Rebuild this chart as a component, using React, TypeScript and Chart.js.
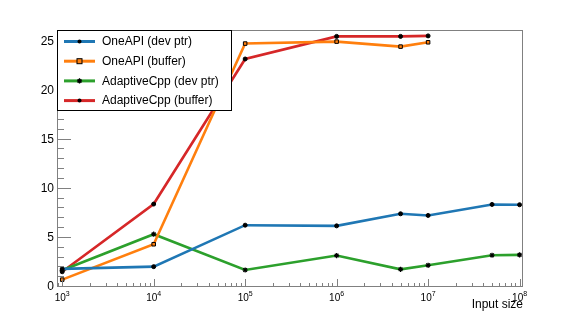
import React, { useEffect, useRef } from "react";
import { Chart, registerables } from "chart.js";

Chart.register(...registerables);

// ---- data ----
const sizesLong = [1e3, 1e4, 1e5, 1e6, 5e6, 1e7, 5e7, 1e8];
const sizesShort = [1e3, 1e4, 1e5, 1e6, 5e6, 1e7];
const oneApiDevPtr = [1.84, 2.07, 6.29, 6.22, 7.45, 7.28, 8.4, 8.37];
const oneApiBuffer = [0.75, 4.35, 24.77, 24.97, 24.46, 24.9];
const adaptiveDevPtr = [1.7, 5.37, 1.73, 3.2, 1.8, 2.21, 3.23, 3.27];
const adaptiveBuffer = [1.55, 8.44, 23.2, 25.5, 25.5, 25.55];
const seriesLabels = ["OneAPI (dev ptr)", "OneAPI (buffer)", "AdaptiveCpp (dev ptr)", "AdaptiveCpp (buffer)"];
const yTickLabels = [0, 5, 10, 15, 20, 25];
const xTickExponents = [3, 4, 5, 6, 7, 8];
const xTitle = "Input size";

const COLORS = ["#1f77b4", "#ff7f0e", "#2ca02c", "#d62728"];
const STYLES = ["circle", "rect", "star", "circle"];
const FRAME = "#808080";
const FONT = "'Liberation Sans', Arial, sans-serif";

function drawMarker(ctx: CanvasRenderingContext2D, style: string, color: string, x: number, y: number) {
  ctx.save();
  if (style === "circle") {
    ctx.fillStyle = "#000";
    ctx.beginPath();
    ctx.arc(x, y, 2, 0, Math.PI * 2);
    ctx.fill();
  } else if (style === "rect") {
    ctx.fillStyle = color;
    ctx.strokeStyle = "#000";
    ctx.lineWidth = 1;
    ctx.fillRect(x - 2.5, y - 2.5, 5, 5);
    ctx.strokeRect(x - 2.5, y - 2.5, 5, 5);
  } else {
    ctx.strokeStyle = "#000";
    ctx.lineWidth = 1.2;
    const r = 2.6;
    ctx.beginPath();
    ctx.moveTo(x - r, y); ctx.lineTo(x + r, y);
    ctx.moveTo(x, y - r); ctx.lineTo(x, y + r);
    const d = r * 0.707;
    ctx.moveTo(x - d, y - d); ctx.lineTo(x + d, y + d);
    ctx.moveTo(x - d, y + d); ctx.lineTo(x + d, y - d);
    ctx.stroke();
  }
  ctx.restore();
}

const rootStyle = {
  id: "rootStyle",
  afterDatasetsDraw(chart: any) {
    const { ctx, chartArea: a, scales } = chart;
    const xs = scales.x;
    const ys = scales.y;
    ctx.save();
    // frame
    ctx.strokeStyle = FRAME;
    ctx.lineWidth = 1;
    ctx.strokeRect(a.left + 0.5, a.top + 0.5, a.right - a.left - 1, a.bottom - a.top - 1);
    // y ticks
    ctx.beginPath();
    for (let v = 0; v <= ys.max; v++) {
      const py = Math.round(ys.getPixelForValue(v)) - 0.5;
      const len = v % 5 === 0 ? 14 : 7;
      ctx.moveTo(a.left, py);
      ctx.lineTo(a.left + len, py);
    }
    // x ticks
    for (let d = 2; d <= 8; d++) {
      for (let m = 1; m <= 9; m++) {
        const val = m * Math.pow(10, d);
        if (val < xs.min || val > xs.max) continue;
        const px = Math.round(xs.getPixelForValue(val)) + 0.5;
        const len = m === 1 ? 8 : 4;
        ctx.moveTo(px, a.bottom);
        ctx.lineTo(px, a.bottom - len);
      }
    }
    ctx.stroke();
    // y labels
    ctx.fillStyle = "#000";
    ctx.font = `12px ${FONT}`;
    ctx.textAlign = "right";
    ctx.textBaseline = "middle";
    for (const v of yTickLabels) {
      ctx.fillText(String(v), a.left - 3, ys.getPixelForValue(v));
    }
    // x labels 10^n
    ctx.textAlign = "left";
    ctx.textBaseline = "alphabetic";
    for (const e of xTickExponents) {
      const px = xs.getPixelForValue(Math.pow(10, e));
      ctx.font = `10px ${FONT}`;
      const w1 = ctx.measureText("10").width;
      ctx.font = `7px ${FONT}`;
      const w2 = ctx.measureText(String(e)).width;
      const left = px - (w1 + w2) / 2;
      ctx.font = `10px ${FONT}`;
      ctx.fillText("10", left, 301);
      ctx.font = `7px ${FONT}`;
      ctx.fillText(String(e), left + w1, 296);
    }
    // axis title
    ctx.font = `12px 'Liberation Sans Narrow', ${FONT}`;
    ctx.textAlign = "right";
    ctx.fillText(xTitle, a.right, 308);
    // legend
    const lx = a.left + 0.5, ly = a.top + 0.5, lw = 174, lh = 80;
    ctx.fillStyle = "#fff";
    ctx.fillRect(lx, ly, lw, lh);
    ctx.strokeStyle = "#000";
    ctx.strokeRect(lx, ly, lw, lh);
    ctx.font = `12px ${FONT}`;
    ctx.textAlign = "left";
    ctx.textBaseline = "middle";
    chart.data.datasets.forEach((ds: any, i: number) => {
      const ry = 41.5 + i * 19.7;
      ctx.strokeStyle = COLORS[i];
      ctx.lineWidth = 3;
      ctx.beginPath();
      ctx.moveTo(64, ry);
      ctx.lineTo(95, ry);
      ctx.stroke();
      drawMarker(ctx, STYLES[i], COLORS[i], 79.5, ry);
      ctx.fillStyle = "#000";
      ctx.fillText(ds.label, 102, ry + 0.5);
    });
    ctx.restore();
  },
};

function toPoints(xs: number[], ys: number[]) {
  return xs.map((x, i) => ({ x, y: ys[i] }));
}

export default function App() {
  const ref = useRef<HTMLCanvasElement | null>(null);
  useEffect(() => {
    if (!ref.current) return;
    const series = [
      toPoints(sizesLong, oneApiDevPtr),
      toPoints(sizesShort, oneApiBuffer),
      toPoints(sizesLong, adaptiveDevPtr),
      toPoints(sizesShort, adaptiveBuffer),
    ];
    const chart = new Chart(ref.current, {
      type: "line",
      data: {
        datasets: series.map((data, i) => ({
          label: seriesLabels[i],
          data,
          borderColor: COLORS[i],
          borderWidth: 2.6,
          pointStyle: STYLES[i] as any,
          pointRadius: STYLES[i] === "rect" ? 2.5 : STYLES[i] === "star" ? 2.6 : 2,
          pointBackgroundColor: STYLES[i] === "rect" ? COLORS[i] : "#000",
          pointBorderColor: "#000",
          pointBorderWidth: STYLES[i] === "star" ? 1.2 : 1,
          tension: 0,
          fill: false,
        })),
      },
      options: {
        animation: false,
        responsive: false,
        events: [],
        layout: { padding: { left: 57, right: 58, top: 30, bottom: 32 } },
        plugins: { legend: { display: false }, tooltip: { enabled: false } },
        scales: {
          x: { type: "logarithmic", min: 877, max: 1.09e8, display: false },
          y: { type: "linear", min: 0, max: 26.15, display: false },
        },
      },
      plugins: [rootStyle],
    });
    return () => chart.destroy();
  }, []);
  return (
    <div style={{ position: "fixed", left: 0, top: 0, width: 581, height: 319, background: "#fff" }}>
      <canvas ref={ref} width={581} height={319} style={{ width: 581, height: 319, display: "block" }} />
    </div>
  );
}
